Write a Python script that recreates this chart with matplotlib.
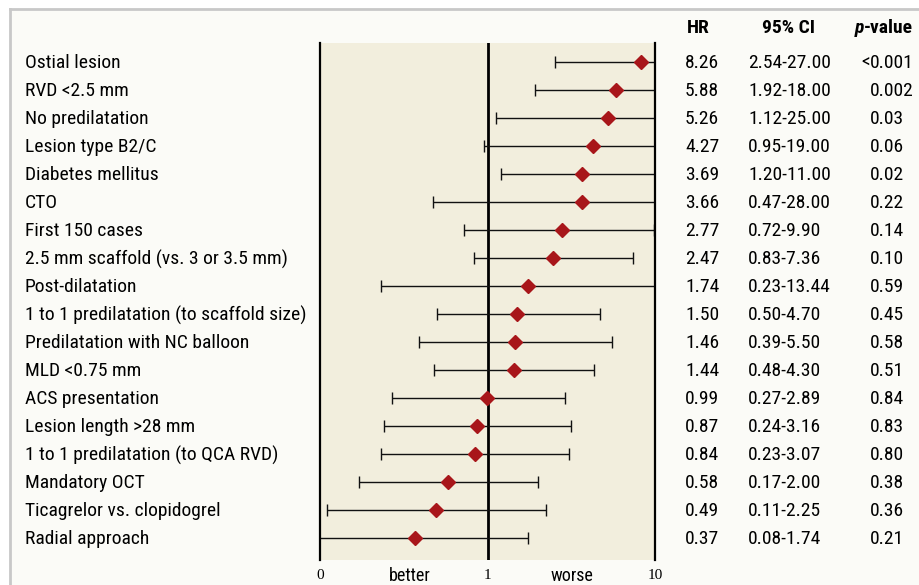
import matplotlib
matplotlib.use("Agg")
import matplotlib.pyplot as plt
import numpy as np
from matplotlib.patches import Rectangle
from matplotlib.lines import Line2D
from matplotlib import font_manager

# ---- data ----
factors = [
    "Ostial lesion", "RVD <2.5 mm", "No predilatation", "Lesion type B2/C",
    "Diabetes mellitus", "CTO", "First 150 cases", "2.5 mm scaffold (vs. 3 or 3.5 mm)",
    "Post-dilatation", "1 to 1 predilatation (to scaffold size)",
    "Predilatation with NC balloon", "MLD <0.75 mm", "ACS presentation",
    "Lesion length >28 mm", "1 to 1 predilatation (to QCA RVD)", "Mandatory OCT",
    "Ticagrelor vs. clopidogrel", "Radial approach",
]
hr = [8.26, 5.88, 5.26, 4.27, 3.69, 3.66, 2.77, 2.47, 1.74, 1.50, 1.46, 1.44,
      0.99, 0.87, 0.84, 0.58, 0.49, 0.37]
ci_low = [2.54, 1.92, 1.12, 0.95, 1.20, 0.47, 0.72, 0.83, 0.23, 0.50, 0.39, 0.48,
          0.27, 0.24, 0.23, 0.17, 0.11, 0.08]
ci_high = [27.00, 18.00, 25.00, 19.00, 11.00, 28.00, 9.90, 7.36, 13.44, 4.70, 5.50, 4.30,
           2.89, 3.16, 3.07, 2.00, 2.25, 1.74]
p_values = ["<0.001", "0.002", "0.03", "0.06", "0.02", "0.22", "0.14", "0.10", "0.59",
            "0.45", "0.58", "0.51", "0.84", "0.83", "0.80", "0.38", "0.36", "0.21"]
x_ticks = [0.1, 1, 10]
x_tick_labels = ["0", "1", "10"]

# ---- fonts: prefer a condensed grotesque ----
available = {f.name for f in font_manager.fontManager.ttflist}
narrow = next((f for f in ["Roboto Condensed", "PT Sans Narrow", "Archivo Narrow",
                           "Fira Sans Condensed", "IBM Plex Sans Condensed",
                           "Liberation Sans Narrow"] if f in available), "DejaVu Sans")
serif = next((f for f in ["Liberation Serif", "DejaVu Serif"] if f in available), "serif")

W, H = 919, 585
fig = plt.figure(figsize=(W / 100, H / 100), dpi=100)
fig.patch.set_facecolor("white")


def fx(px):
    return px / W


def fy(py):
    return 1 - py / H


# panel background and frame (top and left edges)
fig.patches.append(Rectangle((fx(10), 0), 1 - fx(10), fy(9), transform=fig.transFigure,
                             facecolor="#fbfbf7", edgecolor="none", zorder=-5))
fig.lines.append(Line2D([fx(10), 1], [fy(9), fy(9)], transform=fig.transFigure,
                        color="#c8c8c8", lw=2, zorder=-4))
fig.lines.append(Line2D([fx(10), fx(10)], [0, fy(9)], transform=fig.transFigure,
                        color="#c8c8c8", lw=2, zorder=-4))

# plot area
ax_left, ax_right, ax_top, ax_bot = 320, 655, 43, 560
ax = fig.add_axes([fx(ax_left), fy(ax_bot), fx(ax_right - ax_left), (ax_bot - ax_top) / H])
ax.set_facecolor("#f2eedd")
ax.set_xscale("log")
ax.set_xlim(0.1, 10)
row0, step = 62, 28
ax.set_ylim((ax_bot - row0) / step, (ax_top - row0) / step)

n = len(factors)
ys = np.arange(n)
hr_a = np.array(hr)
err = np.vstack([hr_a - np.array(ci_low), np.array(ci_high) - hr_a])
ax.errorbar(hr_a, ys, xerr=err, fmt="none", ecolor="#111111", elinewidth=1.0,
            capsize=4, capthick=1.0, zorder=2)
ax.plot(hr_a, ys, linestyle="none", marker="D", markersize=7.5,
        color="#a8161a", markeredgecolor="#a8161a", zorder=3)
ax.axvline(1, color="black", lw=2.0, zorder=1)

for side in ("top", "bottom"):
    ax.spines[side].set_visible(False)
for side in ("left", "right"):
    ax.spines[side].set_linewidth(1.6)
    ax.spines[side].set_color("black")
ax.set_yticks([])
ax.set_xticks(x_ticks)
ax.set_xticklabels(x_tick_labels, fontfamily=serif, fontsize=11)
ax.minorticks_off()
ax.tick_params(axis="x", length=0, pad=6.5)

# direction labels under the axis
fig.text(fx(410), fy(576), "better", ha="center", va="center",
         fontfamily=narrow, fontsize=13)
fig.text(fx(572), fy(576), "worse", ha="center", va="center",
         fontfamily=narrow, fontsize=13)

# row labels and table columns
fs = 14
for i in range(n):
    y = fy(row0 + 1 + step * i)
    fig.text(fx(25), y, factors[i], ha="left", va="center", fontfamily=narrow, fontsize=fs)
    fig.text(fx(685), y, f"{hr[i]:.2f}", ha="left", va="center", fontfamily=narrow, fontsize=fs)
    fig.text(fx(748), y, f"{ci_low[i]:.2f}-{ci_high[i]:.2f}", ha="left", va="center",
             fontfamily=narrow, fontsize=fs)
    p = p_values[i]
    if p.startswith("<"):
        fig.text(fx(870), y, "<", ha="right", va="center", fontfamily=narrow, fontsize=fs)
        p = p[1:]
    fig.text(fx(870), y, p, ha="left", va="center", fontfamily=narrow, fontsize=fs)

# column headers
hy = fy(28)
fig.text(fx(698), hy, "HR", ha="center", va="center", fontfamily=narrow,
         fontsize=fs, fontweight="bold")
fig.text(fx(788), hy, "95% CI", ha="center", va="center", fontfamily=narrow,
         fontsize=fs, fontweight="bold")
fig.text(fx(855), hy, "p", ha="left", va="center", fontfamily=narrow,
         fontsize=fs, fontweight="bold", fontstyle="italic")
fig.text(fx(864), hy, "-value", ha="left", va="center", fontfamily=narrow,
         fontsize=fs, fontweight="bold")

fig.savefig("out.png", dpi=100, facecolor=fig.get_facecolor())
